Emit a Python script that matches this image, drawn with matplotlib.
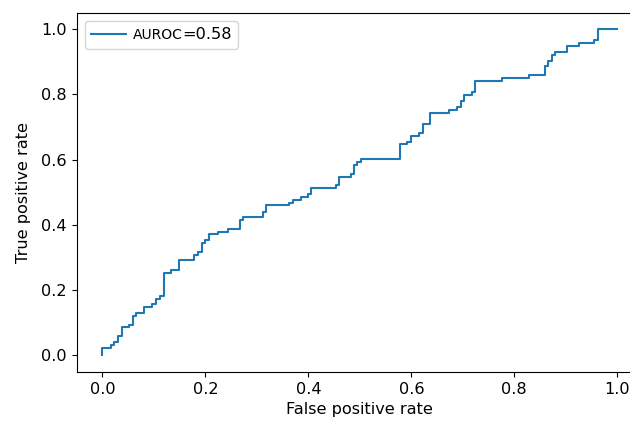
"""ROC curve for the classifier, step plot with AUROC in the legend."""
import numpy as np
import matplotlib
matplotlib.use("Agg")
import matplotlib.pyplot as plt
from matplotlib.lines import Line2D
from matplotlib.text import Text
from matplotlib.legend_handler import HandlerBase

plt.rcParams.update({"font.size": 11.6, "font.family": "DejaVu Sans"})

# corner points of the ROC staircase (fpr where tpr jumps, tpr level after jump)
fpr = [0.0, 0.0, 0.016, 0.022, 0.030, 0.037, 0.052, 0.060, 0.066, 0.081, 0.096,
       0.104, 0.111, 0.119, 0.134, 0.149, 0.178, 0.185, 0.193, 0.200, 0.207,
       0.224, 0.244, 0.267, 0.273, 0.311, 0.317, 0.363, 0.370, 0.385, 0.400,
       0.406, 0.453, 0.459, 0.482, 0.488, 0.495, 0.503, 0.578, 0.592, 0.600,
       0.615, 0.622, 0.637, 0.673, 0.688, 0.696, 0.703, 0.717, 0.724, 0.777,
       0.829, 0.859, 0.866, 0.873, 0.880, 0.903, 0.925, 0.954, 0.962, 1.0]
tpr = [0.0, 0.024, 0.033, 0.040, 0.059, 0.086, 0.094, 0.122, 0.129, 0.148, 0.157,
       0.174, 0.183, 0.254, 0.263, 0.292, 0.308, 0.317, 0.344, 0.353, 0.371,
       0.379, 0.387, 0.414, 0.423, 0.440, 0.461, 0.466, 0.476, 0.485, 0.495,
       0.512, 0.522, 0.548, 0.556, 0.583, 0.593, 0.601, 0.647, 0.655, 0.673,
       0.682, 0.709, 0.744, 0.752, 0.760, 0.779, 0.797, 0.806, 0.841, 0.850,
       0.859, 0.887, 0.903, 0.920, 0.930, 0.948, 0.956, 0.966, 1.0, 1.0]
auroc = 0.58
LINE_COL = "#1f77b4"


class LineAndTag(HandlerBase):
    # legend handle = short line followed by a smaller "AUROC" tag
    def legend_artist(self, legend, orig_handle, fontsize, handlebox):
        ln = Line2D([0, 25.2], [0.35 * fontsize] * 2, color=LINE_COL, lw=1.5)
        tx = Text(29.8, 0, "AUROC", fontsize=10.0, va="baseline", ha="left")
        handlebox.add_artist(ln)
        handlebox.add_artist(tx)
        return ln


fig = plt.figure(figsize=(6.30, 4.21), dpi=100)
ax = fig.add_axes([0.1218, 0.1169, 0.8988, 0.853])
h, = ax.step(fpr, tpr, where="post", color=LINE_COL, lw=1.5)
ax.set_xlim(-0.05, 1.05)
ax.set_ylim(-0.05, 1.05)
ax.set_xticks(np.arange(0, 1.01, 0.2))
ax.set_yticks(np.arange(0, 1.01, 0.2))
ax.set_xlabel("False positive rate")
ax.set_ylabel("True positive rate", labelpad=7.5)
ax.legend([h], [f"={auroc:.2f}"], handler_map={h: LineAndTag()}, loc="upper left",
          handlelength=5.65, handletextpad=0.0)
fig.savefig("out.png", dpi=100)
